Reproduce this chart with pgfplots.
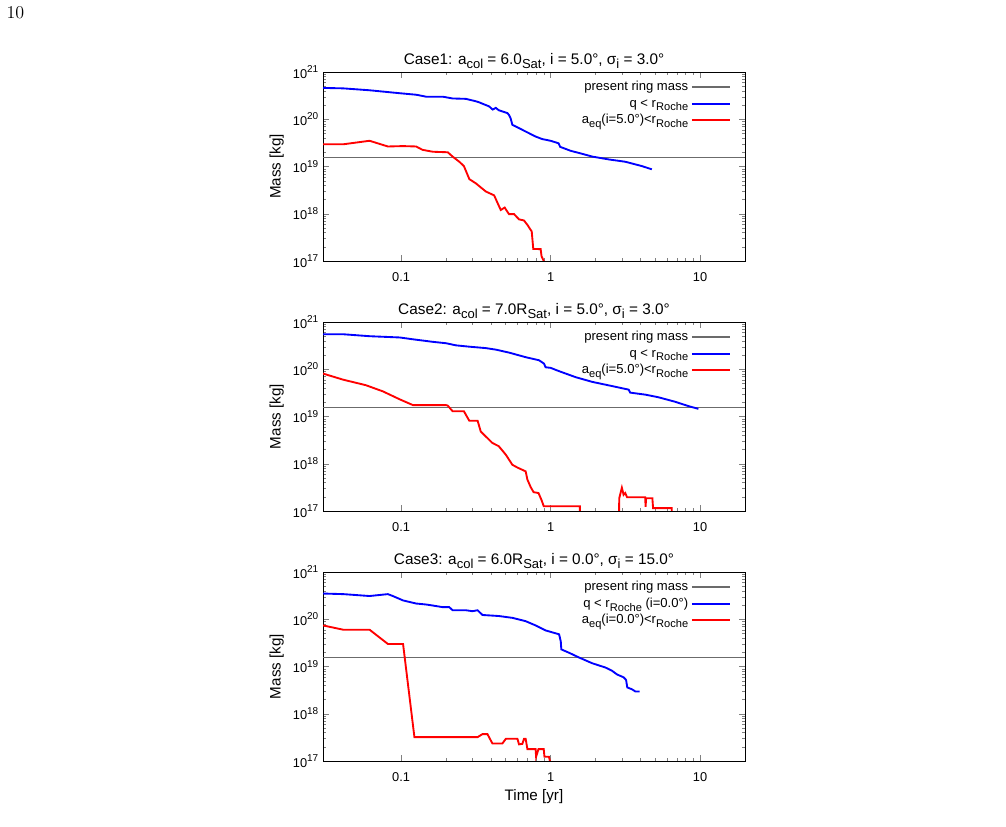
\documentclass[border=0pt]{standalone}
\usepackage{fontspec}
\setmainfont{Liberation Sans}
\usepackage{pgfplots}
\pgfplotsset{compat=1.18}
\definecolor{ringgray}{rgb}{0.42,0.42,0.42}
\makeatletter
\newcommand{\sub}[1]{\raisebox{-0.28em}{\fontsize{\the\dimexpr 0.85\dimexpr\f@size pt\relax\relax}{0pt}\selectfont #1}}
\newcommand{\tsup}[1]{\raisebox{0.42em}{\fontsize{\the\dimexpr 0.78\dimexpr\f@size pt\relax\relax}{0pt}\selectfont #1}}
\makeatother
\newcommand{\ls}{\rule[-3pt]{0pt}{10pt}}
\pgfplotsset{
  scale only axis,
  width=316.5pt, height=141.75pt,
  tick label style={font=\fontsize{9.6}{11}\selectfont},
  xticklabel style={yshift=-5pt},
  every axis label/.append style={font=\fontsize{11.4}{13}\selectfont},
  every axis title/.style={font=\fontsize{11.5}{13}\selectfont, at={(0.5,1)}, anchor=base, yshift=5.5pt},
  every axis x label/.append style={at={(axis description cs:0.5,0)}, anchor=base, yshift=-30pt},
  major tick length=4.5pt, minor tick length=2.5pt,
  legend cell align=right,
  legend plot pos=right,
  every axis legend/.append style={draw=none, fill=none, at={(1,1)}, anchor=north east,
      xshift=-7pt, yshift=-2.9pt,
      font=\fontsize{9.8}{11}\selectfont, row sep=-0.25pt},
  legend image code/.code={\draw[#1] (0pt,0pt) -- (29pt,0pt);},
}
\begin{document}
\begin{tikzpicture}
\path (0,0) rectangle (754.5pt,620.25pt);
\node[font=\fontsize{13.5}{15}\fontfamily{lmr}\selectfont] at (11.5pt,610.5pt) {10};

% ---------------- Case 1 ----------------
\begin{axis}[at={(242.25pt,424.5pt)}, anchor=south west,
  xmode=log, ymode=log,
  xmin=0.03, xmax=20, ymin=1e17, ymax=1e21,
  xtick={0.1,1,10}, xticklabels={0.1,1,10},
  ytick={1e17,1e18,1e19,1e20,1e21},
  yticklabels={10\tsup{17},10\tsup{18},10\tsup{19},10\tsup{20},10\tsup{21}},
  ylabel={Mass [kg]},
  axis line style={line width=0.6pt},
  unbounded coords=jump,
  title={Case1: a\sub{col} = 6.0\sub{Sat}, i = 5.0°, σ\sub{i} = 3.0°}]
\addplot[ringgray, line width=1.1pt] coordinates {(0.03,1.53e19) (20,1.53e19)};
\addlegendentry{\ls present ring mass}
\addplot[blue, line width=1.4pt] table {
x y
0.03 4.6e20
0.041 4.5e20
0.0615 4.1e20
0.098 3.55e20
0.126 3.3e20
0.147 3.0e20
0.19 3.0e20
0.221 2.75e20
0.271 2.7e20
0.316 2.4e20
0.33 2.3e20
0.388 1.87e20
0.41 1.6e20
0.43 1.74e20
0.45 1.55e20
0.514 1.35e20
0.527 1.23e20
0.54 1.05e20
0.555 7.6e19
0.58 7.1e19
0.681 5.5e19
0.794 4.3e19
0.88 3.8e19
1.0 3.5e19
1.13 3.1e19
1.16 2.6e19
1.36 2.15e19
1.58 1.9e19
1.9 1.62e19
2.45 1.41e19
3.16 1.26e19
4.08 1.02e19
4.76 8.7e18
};
\addlegendentry{\ls q < r\sub{Roche}}
\addplot[red, line width=1.4pt] table {
x y
0.03 2.95e19
0.041 2.95e19
0.0615 3.5e19
0.0815 2.65e19
0.103 2.7e19
0.126 2.65e19
0.139 2.25e19
0.163 2.05e19
0.205 2.0e19
0.221 1.62e19
0.245 1.26e19
0.263 1.02e19
0.286 5.4e18
0.316 4.4e18
0.369 2.95e18
0.419 2.45e18
0.464 1.2e18
0.493 1.35e18
0.527 9.8e17
0.57 9.8e17
0.615 7.6e17
0.664 7.2e17
0.70 5.8e17
0.748 4.2e17
0.766 1.8e17
0.858 1.78e17
0.87 1.26e17
0.9 1.0e17
0.91 1e16
};
\addlegendentry{\ls a\sub{eq}(i=5.0°)<r\sub{Roche}}
\end{axis}

% ---------------- Case 2 ----------------
\begin{axis}[at={(242.25pt,237pt)}, anchor=south west,
  xmode=log, ymode=log,
  xmin=0.03, xmax=20, ymin=1e17, ymax=1e21,
  xtick={0.1,1,10}, xticklabels={0.1,1,10},
  ytick={1e17,1e18,1e19,1e20,1e21},
  yticklabels={10\tsup{17},10\tsup{18},10\tsup{19},10\tsup{20},10\tsup{21}},
  ylabel={Mass [kg]},
  axis line style={line width=0.6pt},
  unbounded coords=jump,
  title={Case2: a\sub{col} = 7.0R\sub{Sat}, i = 5.0°, σ\sub{i} = 3.0°}]
\addplot[ringgray, line width=1.1pt] coordinates {(0.03,1.53e19) (20,1.53e19)};
\addlegendentry{\ls present ring mass}
\addplot[blue, line width=1.4pt] table {
x y
0.03 5.5e20
0.041 5.5e20
0.0615 5.0e20
0.098 4.7e20
0.12 4.3e20
0.163 3.8e20
0.2 3.55e20
0.233 3.2e20
0.286 3.0e20
0.369 2.8e20
0.43 2.6e20
0.527 2.25e20
0.681 1.8e20
0.836 1.55e20
0.903 1.32e20
0.926 1.1e20
1.0 1.07e20
1.14 9.1e19
1.47 6.8e19
1.9 5.4e19
2.58 4.4e19
3.33 3.7e19
3.41 3.2e19
4.3 2.9e19
5.27 2.55e19
6.81 2.05e19
8.36 1.66e19
9.75 1.45e19
};
\addlegendentry{\ls q < r\sub{Roche}}
\addplot[red, line width=1.4pt] table {
x y
0.03 8.1e19
0.041 6.0e19
0.058 4.6e19
0.0755 3.4e19
0.098 2.3e19
0.12 1.74e19
0.2 1.74e19
0.205 1.7e19
0.221 1.29e19
0.263 1.29e19
0.286 8.1e18
0.325 8.1e18
0.341 4.8e18
0.408 2.75e18
0.45 2.35e18
0.502 1.55e18
0.555 9.5e17
0.60 8.3e17
0.681 6.9e17
0.70 4.6e17
0.736 3.2e17
0.77 2.5e17
0.83 2.4e17
0.87 1.7e17
0.9 1.26e17
1.57 1.26e17
1.57 1e16
1.8 nan
2.85 1e16
2.88 1.86e17
3.0 3.1e17
3.08 2.2e17
3.16 2.4e17
3.25 1.95e17
4.3 1.95e17
4.32 1.23e17
4.36 1.86e17
4.8 1.86e17
4.85 1.15e17
6.47 1.15e17
6.5 1e16
};
\addlegendentry{\ls a\sub{eq}(i=5.0°)<r\sub{Roche}}
\end{axis}

% ---------------- Case 3 ----------------
\begin{axis}[at={(242.25pt,49.5pt)}, anchor=south west,
  xmode=log, ymode=log,
  xmin=0.03, xmax=20, ymin=1e17, ymax=1e21,
  xtick={0.1,1,10}, xticklabels={0.1,1,10},
  ytick={1e17,1e18,1e19,1e20,1e21},
  yticklabels={10\tsup{17},10\tsup{18},10\tsup{19},10\tsup{20},10\tsup{21}},
  ylabel={Mass [kg]},
  xlabel={Time [yr]},
  axis line style={line width=0.6pt},
  unbounded coords=jump,
  title={Case3: a\sub{col} = 6.0R\sub{Sat}, i = 0.0°, σ\sub{i} = 15.0°}]
\addplot[ringgray, line width=1.1pt] coordinates {(0.03,1.53e19) (20,1.53e19)};
\addlegendentry{\ls present ring mass}
\addplot[blue, line width=1.4pt] table {
x y
0.03 3.5e20
0.041 3.4e20
0.0615 3.1e20
0.0815 3.4e20
0.088 3.1e20
0.103 2.5e20
0.126 2.15e20
0.147 2.05e20
0.163 1.95e20
0.19 1.8e20
0.21 1.8e20
0.221 1.55e20
0.271 1.55e20
0.3 1.48e20
0.325 1.55e20
0.35 1.23e20
0.45 1.17e20
0.555 1.07e20
0.681 9.1e19
0.794 7.4e19
0.926 5.8e19
1.14 4.8e19
1.17 3.4e19
1.18 2.3e19
1.33 1.95e19
1.55 1.55e19
1.9 1.17e19
2.33 9.5e18
2.58 8.1e18
2.78 6.8e18
3.08 5.9e18
3.2 5.2e18
3.26 3.6e18
3.5 3.3e18
3.7 2.95e18
3.94 2.95e18
};
\addlegendentry{\ls q < r\sub{Roche} (i=0.0°)}
\addplot[red, line width=1.4pt] table {
x y
0.03 7.4e19
0.041 6.0e19
0.0615 6.0e19
0.0815 3.0e19
0.103 3.0e19
0.1227 3.2e17
0.325 3.2e17
0.35 3.7e17
0.378 3.7e17
0.408 2.35e17
0.476 2.35e17
0.502 2.95e17
0.60 2.95e17
0.615 2.25e17
0.647 2.3e17
0.664 2.95e17
0.681 2.95e17
0.70 1.78e17
0.794 1.78e17
0.80 1.23e17
0.83 1.78e17
0.90 1.78e17
0.91 1.23e17
0.975 1.23e17
0.99 1.0e17
1.0 1e16
};
\addlegendentry{\ls a\sub{eq}(i=0.0°)<r\sub{Roche}}
\end{axis}
\end{tikzpicture}
\end{document}
